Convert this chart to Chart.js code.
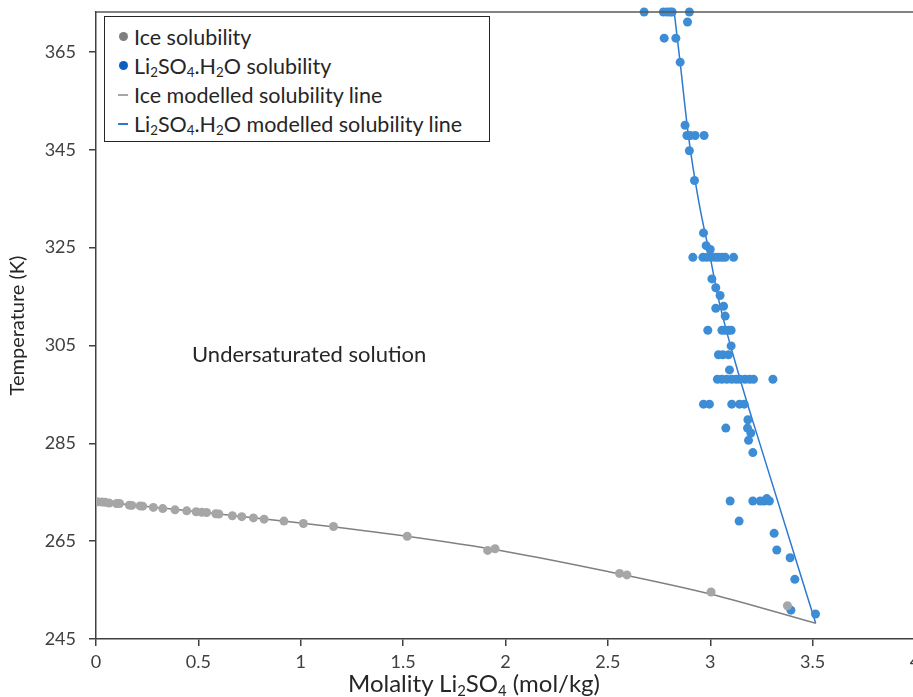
<!DOCTYPE html>
<html>
<head>
<meta charset="utf-8">
<script src="https://cdn.jsdelivr.net/npm/chart.js@4"></script>
<style>
  body { margin: 0; overflow: hidden; background: #fff; font-family: Lato, sans-serif; }
  #wrap { position: relative; width: 935px; height: 697px; }
  #legend {
    position: absolute; left: 104px; top: 16px; width: 386px; height: 126px;
    border: 1.5px solid #262626; background: #fff; padding-top: 5px; box-sizing: border-box;
  }
  .item { height: 29px; display: flex; align-items: center; font-size: 21.5px; color: #262626; white-space: nowrap; }
  .mark { width: 10px; margin-left: 13px; margin-right: 6px; display: flex; justify-content: center; }
  .dot { width: 9px; height: 9px; border-radius: 50%; }
  .dash { width: 10px; height: 2px; }
  sub { font-size: 0.62em; vertical-align: -0.25em; line-height: 0; }
  #xtitle { position: absolute; left: 348px; top: 668px; font-size: 24px; color: #262626; white-space: nowrap; }
  #note { position: absolute; left: 192px; top: 340px; font-size: 22px; color: #262626; white-space: nowrap; }
</style>
</head>
<body>
<div id="wrap">
  <canvas id="chart"></canvas>
  <div id="legend"></div>
  <div id="note">Undersaturated solution</div>
  <div id="xtitle">Molality Li<sub>2</sub>SO<sub>4</sub> (mol/kg)</div>
</div>
<script>
// Axis ticks
const xTicks = [0, 0.5, 1, 1.5, 2, 2.5, 3, 3.5, 4];
const yTicks = [245, 265, 285, 305, 325, 345, 365];

// Ice solubility measurements
const iceMolality = [0.006, 0.028, 0.044, 0.064, 0.10, 0.115, 0.163, 0.175, 0.215, 0.228, 0.28, 0.326, 0.386,
    0.443, 0.489, 0.516, 0.54, 0.585, 0.6, 0.666, 0.712, 0.769, 0.821, 0.918, 1.013, 1.16, 1.52, 1.913, 1.949,
    2.557, 2.593, 3.004, 3.377];
const iceTemp = [273.05, 273.0, 272.95, 272.8, 272.7, 272.7, 272.35, 272.3, 272.2, 272.15, 271.9, 271.65, 271.4,
    271.2, 271.0, 270.9, 270.85, 270.6, 270.55, 270.2, 270.0, 269.75, 269.5, 269.1, 268.6, 268.0, 266.0, 263.1, 263.45,
    258.4, 258.1, 254.6, 251.8];

// Li2SO4.H2O solubility measurements
const liMolality = [2.677, 2.771, 2.789, 2.804, 2.814, 2.898, 2.889, 2.775, 2.832, 2.853, 2.877,
    2.886, 2.902, 2.926, 2.970, 2.898, 2.923, 2.967, 2.980, 3.0,
    2.915, 2.964, 2.983, 3.004, 3.024, 3.040, 3.057, 3.073, 3.114,
    3.008, 3.027, 3.048, 3.027, 3.065, 3.073,
    2.988, 3.057, 3.073, 3.089, 3.102, 3.102,
    3.040, 3.061, 3.089, 3.094,
    3.035, 3.057, 3.081, 3.105, 3.127, 3.146, 3.170, 3.192, 3.211, 3.306,
    2.967, 2.996, 3.105, 3.143, 3.166,
    3.184, 3.076, 3.182, 3.198, 3.187, 3.208,
    3.097, 3.208, 3.244, 3.263, 3.289, 3.276,
    3.141, 3.312, 3.325, 3.390, 3.413, 3.394, 3.514];
const liTemp = [373.15, 373.15, 373.15, 373.15, 373.15, 373.15, 371.1, 367.8, 367.8, 362.9, 350.0,
    347.9, 347.9, 347.9, 347.9, 344.8, 338.7, 328.0, 325.4, 324.6,
    323.0, 323.0, 323.0, 323.0, 323.0, 323.0, 323.0, 323.0, 323.0,
    318.6, 316.8, 315.2, 312.6, 313.0, 311.0,
    308.1, 308.1, 308.1, 308.1, 308.1, 304.9,
    303.1, 303.1, 303.1, 300.0,
    298.1, 298.1, 298.1, 298.1, 298.1, 298.1, 298.1, 298.1, 298.1, 298.1,
    293.0, 293.0, 293.0, 293.0, 293.0,
    289.8, 288.1, 288.1, 287.1, 285.6, 283.1,
    273.2, 273.2, 273.2, 273.2, 273.2, 273.7,
    269.1, 266.6, 263.2, 261.6, 257.2, 250.9, 250.1];

// Modelled solubility lines
const iceLineMolality = [0, 0.5, 1, 1.5, 2, 2.5, 3, 3.515];
const iceLineTemp = [273.15, 271.0, 268.7, 266.1, 262.9, 258.8, 254.2, 248.2];
const liLineMolality = [2.824, 2.853, 2.893, 2.943, 3.0, 3.040, 3.146, 3.252, 3.515];
const liLineTemp = [373.15, 362.8, 348.0, 334.6, 323.0, 314.5, 298.1, 283.6, 248.2];

const seriesNames = ['Ice solubility', 'Li2SO4.H2O solubility', 'Ice modelled solubility line',
    'Li2SO4.H2O modelled solubility line'];
const legendNames = ['Ice solubility', 'Li<sub>2</sub>SO<sub>4</sub>.H<sub>2</sub>O solubility',
    'Ice modelled solubility line', 'Li<sub>2</sub>SO<sub>4</sub>.H<sub>2</sub>O modelled solubility line'];
const legendColors = ['#7f7f7f', '#0b5fbf', '#a6a6a6', '#2e7ad1'];
const legendKinds = ['dot', 'dot', 'dash', 'dash'];

function toPoints(xs, ys) {
    return xs.map((x, i) => ({ x: x, y: ys[i] }));
}

// Legend
const legend = document.getElementById('legend');
legendNames.forEach((name, i) => {
    const row = document.createElement('div');
    row.className = 'item';
    row.innerHTML = `<span class="mark"><span class="${legendKinds[i]}" style="background:${legendColors[i]}"></span></span><span>${name}</span>`;
    legend.appendChild(row);
});

// Top border of the plot area
const topBorder = {
    id: 'topBorder',
    afterDraw(chart) {
        const { ctx, chartArea } = chart;
        ctx.save();
        ctx.strokeStyle = '#595959';
        ctx.lineWidth = 1.5;
        ctx.beginPath();
        ctx.moveTo(chartArea.left, chartArea.top);
        ctx.lineTo(chartArea.right + 10, chartArea.top);
        ctx.stroke();
        ctx.restore();
    }
};

const ctx = document.getElementById('chart').getContext('2d');
new Chart(ctx, {
    type: 'scatter',
    data: {
        datasets: [{
            label: seriesNames[0],
            data: toPoints(iceMolality, iceTemp),
            backgroundColor: '#a6a6a6',
            borderWidth: 0,
            pointRadius: 4.5,
            order: 0
        }, {
            label: seriesNames[1],
            data: toPoints(liMolality, liTemp),
            backgroundColor: '#3d8dd6',
            borderWidth: 0,
            pointRadius: 4.5,
            clip: 8,
            order: 0
        }, {
            label: seriesNames[2],
            data: toPoints(iceLineMolality, iceLineTemp),
            showLine: true,
            borderColor: '#808080',
            borderWidth: 1.5,
            pointRadius: 0,
            cubicInterpolationMode: 'monotone',
            order: 1
        }, {
            label: seriesNames[3],
            data: toPoints(liLineMolality, liLineTemp),
            showLine: true,
            borderColor: '#2e7ad1',
            borderWidth: 1.5,
            pointRadius: 0,
            cubicInterpolationMode: 'monotone',
            order: 1
        }]
    },
    options: {
        responsive: true,
        maintainAspectRatio: false,
        animation: false,
        layout: { padding: { top: 12, right: 20, left: 0, bottom: 0 } },
        plugins: {
            legend: { display: false },
            tooltip: { enabled: false }
        },
        scales: {
            x: {
                type: 'linear',
                min: 0,
                max: 4,
                afterBuildTicks: scale => { scale.ticks = xTicks.map(v => ({ value: v })); },
                afterFit: scale => { scale.height = 58; },
                ticks: {
                    callback: v => String(v),
                    color: '#404040',
                    padding: 5,
                    maxRotation: 0,
                    font: { family: 'Lato', size: 18 }
                },
                grid: { drawOnChartArea: false, drawTicks: true, tickLength: 7, color: '#404040', lineWidth: 1.5 },
                border: { display: true, color: '#404040', width: 1.5 }
            },
            y: {
                min: 245,
                max: 373.15,
                afterBuildTicks: scale => { scale.ticks = yTicks.map(v => ({ value: v })); },
                afterFit: scale => {
                    scale.width = 96;
                    scale.paddingTop = 0;
                    scale.paddingBottom = 0;
                },
                ticks: {
                    color: '#404040',
                    padding: 13,
                    font: { family: 'Lato', size: 18 }
                },
                title: {
                    display: true,
                    text: 'Temperature (K)',
                    color: '#262626',
                    padding: { top: 6, bottom: 0 },
                    font: { family: 'Lato', size: 20 }
                },
                grid: { drawOnChartArea: false, drawTicks: true, tickLength: 7, color: '#404040', lineWidth: 1.5 },
                border: { display: true, color: '#404040', width: 1.5 }
            }
        }
    },
    plugins: [topBorder]
});
</script>
</body>
</html>
